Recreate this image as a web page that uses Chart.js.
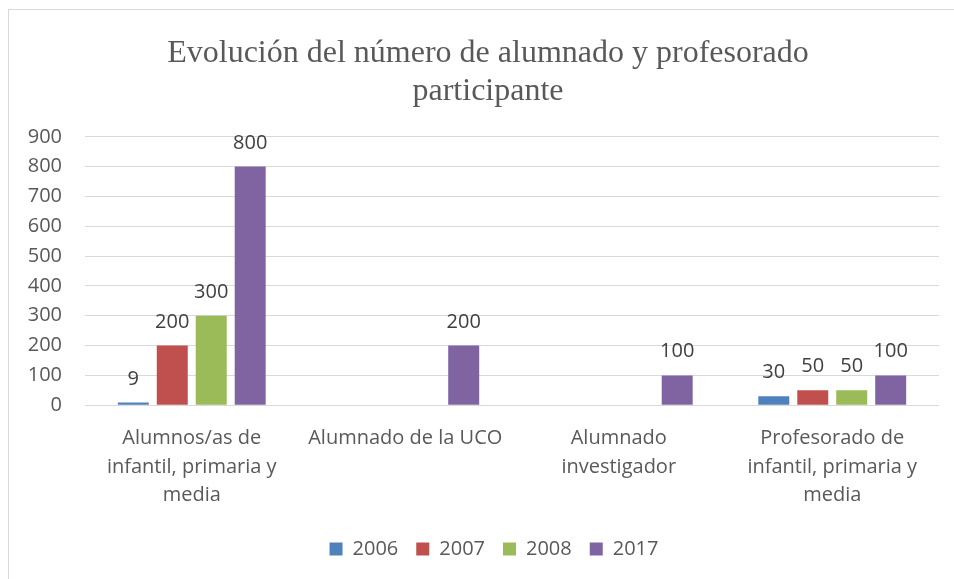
<!DOCTYPE html>
<html>
<head>
<meta charset="utf-8">
<script src="https://cdn.jsdelivr.net/npm/chart.js@4/dist/chart.umd.min.js"></script>
<style>
  html, body { margin: 0; padding: 0; background: #fff; overflow: hidden; }
  #box {
    position: absolute; left: 8px; top: 9px;
    width: 971px; height: 598px;
    border: 1px solid #d9d9d9;
  }
</style>
</head>
<body>
<div id="box"><canvas id="chart" width="971" height="598"></canvas></div>
<script>
const categories = [
  ["Alumnos/as de", "infantil, primaria y", "media"],
  "Alumnado de la UCO",
  ["Alumnado", "investigador"],
  ["Profesorado de", "infantil, primaria y", "media"]
];
const years = ["2006", "2007", "2008", "2017"];
const values2006 = [9, null, null, 30];
const values2007 = [200, null, null, 50];
const values2008 = [300, null, null, 50];
const values2017 = [800, 200, 100, 100];
const colors = ["#4f81bd", "#c0504d", "#9bbb59", "#8064a2"];

const textFont = "'Open Sans', sans-serif";

// etiquetas de valor encima de cada barra
const valueLabels = {
  id: "valueLabels",
  afterLayout(chart) {
    // centrar título y leyenda como en el original
    chart.titleBlock.left += 9;
    chart.titleBlock.right += 9;
    chart.legend.left += 15;
    chart.legend.right += 15;
  },
  afterDatasetsDraw(chart) {
    const ctx = chart.ctx;
    ctx.save();
    ctx.font = "20px " + textFont;
    ctx.fillStyle = "#404040";
    ctx.textAlign = "center";
    ctx.textBaseline = "alphabetic";
    chart.data.datasets.forEach(function (ds, i) {
      chart.getDatasetMeta(i).data.forEach(function (bar, j) {
        const v = ds.data[j];
        if (v === null) return;
        ctx.fillText(String(v), bar.x, bar.y - 18);
      });
    });
    ctx.restore();
  }
};

const seriesValues = [values2006, values2007, values2008, values2017];

new Chart(document.getElementById("chart"), {
  type: "bar",
  data: {
    labels: categories,
    datasets: years.map(function (y, i) {
      return {
        label: y,
        data: seriesValues[i],
        backgroundColor: colors[i],
        borderWidth: 0,
        categoryPercentage: 0.73,
        barPercentage: 0.795
      };
    })
  },
  options: {
    responsive: false,
    animation: false,
    layout: { padding: { left: 10, right: 41, top: 24, bottom: 39 } },
    plugins: {
      tooltip: { enabled: false },
      title: {
        display: true,
        text: ["Evolución del número de alumnado y profesorado", "participante"],
        color: "#595959",
        font: { family: "'Liberation Serif', serif", size: 32, weight: "normal", lineHeight: 1.2 },
        padding: { top: 0, bottom: 26 }
      },
      legend: {
        position: "bottom",
        labels: {
          color: "#595959",
          font: { family: textFont, size: 20 },
          boxWidth: 13,
          boxHeight: 13,
          padding: 18
        }
      }
    },
    scales: {
      x: {
        grid: { display: false },
        border: { display: false },
        ticks: {
          color: "#595959",
          font: { family: textFont, size: 20, lineHeight: 1.43 },
          maxRotation: 0,
          autoSkip: false,
          padding: 11
        }
      },
      y: {
        min: 0,
        max: 900,
        grid: { color: "#d9d9d9", drawTicks: false },
        border: { display: false },
        ticks: {
          stepSize: 100,
          color: "#595959",
          font: { family: textFont, size: 20 },
          padding: 23
        },
        afterFit: function (scale) {
          scale.width = 66;
        }
      }
    }
  },
  plugins: [valueLabels]
});
</script>
</body>
</html>
